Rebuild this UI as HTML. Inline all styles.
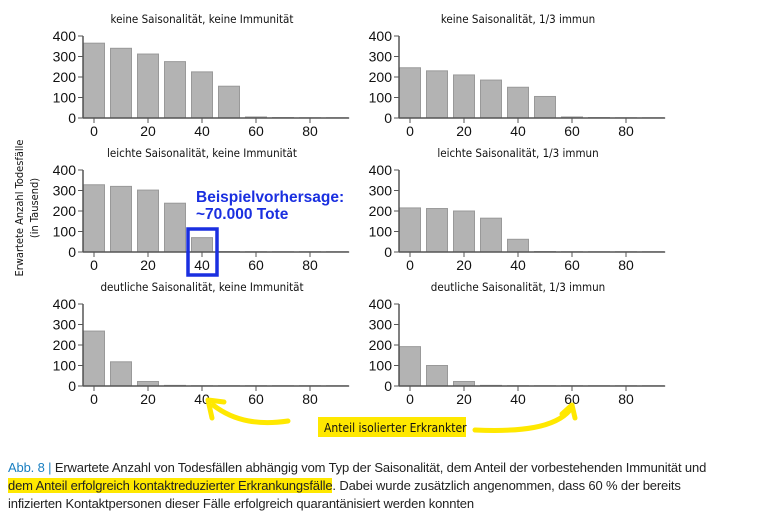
<!DOCTYPE html>
<html><head><meta charset="utf-8"><style>
body{margin:0;background:#fff;width:765px;height:516px;overflow:hidden;font-family:"Liberation Sans",sans-serif}
svg{position:absolute;left:0;top:0}
.cap{position:absolute;left:8px;top:459px;font-size:13px;line-height:18px;color:#222;width:760px;letter-spacing:-0.15px;white-space:nowrap}
.hl{background:#ffe800}
</style></head><body>
<svg id="chart" width="765" height="516"></svg>
<div class="cap"><span style="color:#1a7fc1">Abb. 8 |</span> Erwartete Anzahl von Todesfällen abhängig vom Typ der Saisonalität, dem Anteil der vorbestehenden Immunität und<br><span class="hl">dem Anteil erfolgreich kontaktreduzierter Erkrankungsfälle</span>. Dabei wurde zusätzlich angenommen, dass 60 % der bereits<br>infizierten Kontaktpersonen dieser Fälle erfolgreich quarantänisiert werden konnten</div>
<script>
const categories=[0,10,20,30,40,50,60,70,80,90];
const xTicks=[0,20,40,60,80];
const yTicks=[0,100,200,300,400];
const titles=["keine Saisonalität, keine Immunität","keine Saisonalität, 1/3 immun","leichte Saisonalität, keine Immunität","leichte Saisonalität, 1/3 immun","deutliche Saisonalität, keine Immunität","deutliche Saisonalität, 1/3 immun"];
const s1=[365,340,312,275,225,155,5,2,1,1];
const s2=[245,230,210,185,150,105,5,2,1,1];
const s3=[328,320,302,238,70,2,1,1,1,1];
const s4=[215,212,200,165,62,2,1,1,1,1];
const s5=[268,118,22,3,1,1,1,1,1,1];
const s6=[192,100,22,3,1,1,1,1,1,1];
const series=[s1,s2,s3,s4,s5,s6];
const NS="http://www.w3.org/2000/svg";
const svg=document.getElementById('chart');
function mk(t,a,p){const e=document.createElementNS(NS,t);for(const k in a)e.setAttribute(k,a[k]);(p||svg).appendChild(e);return e;}
series.forEach((data,i)=>{
  const ox=94+(i%2)*316, oy=118+Math.floor(i/2)*134;
  const xs=v=>ox+v*2.7, ys=v=>oy-v*0.205;
  const g=mk('g',{});
  
  
  const t=mk('text',{x:ox+108,y:oy-95,'text-anchor':'middle','font-size':'11.5',fill:'#111','font-family':'"DejaVu Sans Condensed","Liberation Sans Narrow","Liberation Sans",sans-serif'},g);
  t.textContent=titles[i];
  
  
  data.forEach((v,j)=>{
    const r=mk('rect',{x:xs(categories[j])-10.5,y:ys(v),width:21,height:oy-ys(v),fill:'#b3b3b3',stroke:'#999','stroke-width':1},g);
    
    
  });
  const ya=mk('line',{x1:ox-11,x2:ox-11,y1:ys(400),y2:oy,stroke:'#555','stroke-width':1.5},g);
  
  
  const xa=mk('line',{x1:ox-11,x2:xs(94.5),y1:oy,y2:oy,stroke:'#555','stroke-width':1.5},g);
  
  
  yTicks.forEach(v=>{
    mk('line',{x1:ox-16,x2:ox-11,y1:ys(v),y2:ys(v),stroke:'#555'},g);
    const l=mk('text',{x:ox-18,y:ys(v)+5,'text-anchor':'end','font-size':'14',fill:'#111'},g);
    l.textContent=v;
    
    
  });
  xTicks.forEach(v=>{
    mk('line',{x1:xs(v),x2:xs(v),y1:oy,y2:oy+5,stroke:'#555'},g);
    const l=mk('text',{x:xs(v),y:oy+18,'text-anchor':'middle','font-size':'14',fill:'#111'},g);
    l.textContent=v;
    
    
  });
});
</script>
<svg width="765" height="516">
<g transform="translate(23,208) rotate(-90)" font-size="11" fill="#111" text-anchor="middle" font-family="'DejaVu Sans Condensed','Liberation Sans',sans-serif">
<text x="0" y="0">Erwartete Anzahl Todesfälle</text><text x="0" y="15">(in Tausend)</text></g>
<rect x="188" y="229" width="29" height="46" fill="none" stroke="#1a2fe0" stroke-width="3.5"/>
<text x="196" y="202" font-size="15.5" font-weight="bold" fill="#1a2fe0">Beispielvorhersage:</text>
<text x="196" y="219" font-size="15.5" font-weight="bold" fill="#1a2fe0">~70.000 Tote</text>
<rect x="318" y="417" width="148" height="20" fill="#ffe800"/>
<text x="324" y="432" font-size="12" fill="#111" font-family="'DejaVu Sans Condensed','Liberation Sans',sans-serif">Anteil isolierter Erkrankter</text>
<g fill="none" stroke="#ffe800" stroke-width="5" stroke-linecap="round">
<path d="M288,421 C260,425 235,422 213,405"/><path d="M208,400 L212,418 M208,400 L224,402"/>
<path d="M475,430 C520,432 555,428 570,410"/><path d="M572,405 L562,414 M572,405 L575,418"/>
</g>
</svg>
</body></html>
